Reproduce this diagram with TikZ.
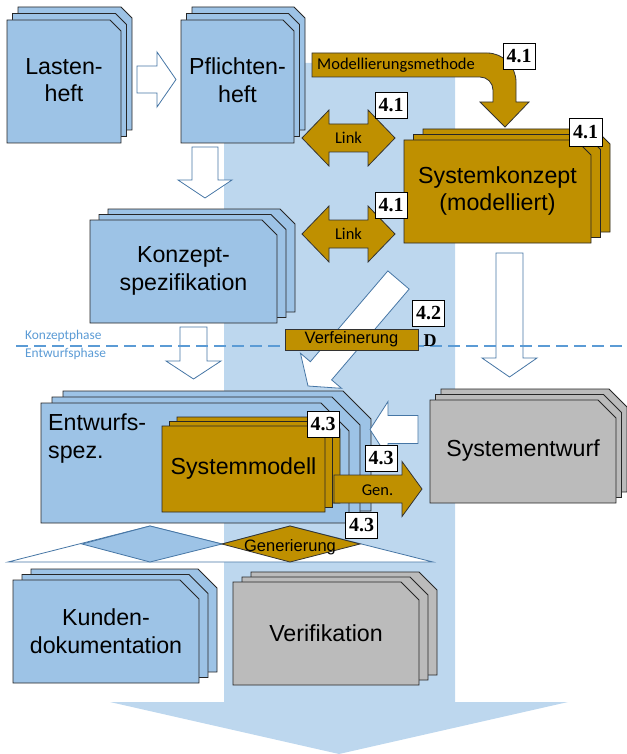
\documentclass[tikz,border=0pt]{standalone}
\usepackage{fontspec}
\setmainfont{Liberation Sans}
\newfontfamily\calibrifont{Carlito}
\newfontfamily\numfont{Liberation Serif}
\usetikzlibrary{calc}

\definecolor{bandblue}{RGB}{189,215,238}
\definecolor{docblue}{RGB}{157,195,230}
\definecolor{docgold}{RGB}{191,144,0}
\definecolor{docgray}{RGB}{187,187,187}
\definecolor{outlineblue}{RGB}{70,118,165}
\definecolor{phaseblue}{RGB}{91,155,213}

% stack of three sheets: style, front sheet x1,y1,x2,y2, cut, dx, dy
\newcommand{\docstack}[8]{%
  \foreach \k in {2,1,0}{
    \draw[#1] ({#2+\k*#7},{#3-\k*#8}) -- ({#4+\k*#7-#6},{#3-\k*#8})
      -- ({#4+\k*#7},{#3-\k*#8+#6}) -- ({#4+\k*#7},{#5-\k*#8})
      -- ({#2+\k*#7},{#5-\k*#8}) -- cycle;
  }}

% block arrow: style, tail, tip, shaft half width, head half width, head length
\newcommand{\blockarrow}[6]{%
  \coordinate (ba-s) at (#2);
  \coordinate (ba-t) at (#3);
  \coordinate (ba-h) at ($(ba-t)!#6!(ba-s)$);
  \draw[#1] ($(ba-s)!#4!90:(ba-t)$) -- ($(ba-h)!#4!90:(ba-t)$)
    -- ($(ba-h)!#5!90:(ba-t)$) -- (ba-t) -- ($(ba-h)!#5!-90:(ba-t)$)
    -- ($(ba-h)!#4!-90:(ba-t)$) -- ($(ba-s)!#4!-90:(ba-t)$) -- cycle;}

% double block arrow: style, end a, end b, shaft half width, head half width, head length
\newcommand{\linkarrow}[6]{%
  \coordinate (la-a) at (#2);
  \coordinate (la-b) at (#3);
  \coordinate (la-ha) at ($(la-a)!#6!(la-b)$);
  \coordinate (la-hb) at ($(la-b)!#6!(la-a)$);
  \draw[#1] (la-a) -- ($(la-ha)!#5!90:(la-b)$) -- ($(la-ha)!#4!90:(la-b)$)
    -- ($(la-hb)!#4!-90:(la-a)$) -- ($(la-hb)!#5!-90:(la-a)$) -- (la-b)
    -- ($(la-hb)!#5!90:(la-a)$) -- ($(la-hb)!#4!90:(la-a)$)
    -- ($(la-ha)!#4!-90:(la-b)$) -- ($(la-ha)!#5!-90:(la-b)$) -- cycle;}

\tikzset{
  bluedoc/.style={fill=docblue, draw=black!85, line width=0.8pt},
  golddoc/.style={fill=docgold, draw=black!85, line width=0.8pt},
  graydoc/.style={fill=docgray, draw=black!85, line width=0.8pt},
  hollow/.style={fill=white, draw=outlineblue, line width=0.8pt},
  goldarrow/.style={fill=docgold, draw=black!80, line width=0.8pt},
  doctext/.style={inner sep=0pt, align=center, font=\fontsize{23.2}{27.5}\selectfont},
  smalltext/.style={inner sep=0pt, font=\calibrifont\fontsize{16.5}{18}\selectfont},
  numbox/.style={draw=black, line width=0.8pt, fill=white, inner sep=0pt,
    minimum width=32pt, minimum height=26pt, font=\numfont\bfseries\fontsize{20}{20}\selectfont},
  phasetext/.style={inner sep=0pt, anchor=west, text=phaseblue, font=\calibrifont\fontsize{13.4}{15}\selectfont},
}

\begin{document}
\begin{tikzpicture}[x=1pt,y=-1pt]
\useasboundingbox (0,0) rectangle (626,754);

% wide arrow in the background
\fill[bandblue] (224,63) -- (455,63) -- (455,702) -- (568,702) -- (339,754)
  -- (110,702) -- (224,702) -- cycle;

% documents
\docstack{bluedoc}{7}{20}{121}{143}{11}{5.5}{6.5}
\node[doctext] (lasten) at (64,80) {Lasten-\\heft};
\docstack{bluedoc}{181}{20}{294}{143}{11}{5.5}{6.5}
\node[doctext] (pflichten) at (237.5,80) {Pflichten-\\heft};
\docstack{bluedoc}{90}{220}{277}{323}{15}{9}{5.5}
\node[doctext] (konzept) at (183.5,271) {Konzept-\\spezifikation};
\docstack{golddoc}{404}{140}{591}{243}{15}{9.5}{5.5}
\node[doctext] (syskonzept) at (497.5,191) {Systemkonzept\\(modelliert)};
\docstack{graydoc}{430}{400}{616}{503}{18}{5.5}{5.5}
\node[doctext] (sysentwurf) at (523,451) {Systementwurf};
\docstack{bluedoc}{41}{403}{349}{523}{28}{11}{6}
\node[doctext, anchor=north west, align=left] (entwurf) at (48,414) {Entwurfs-\\spez.};
\docstack{golddoc}{162}{426}{325}{512}{12}{7.5}{4.5}
\node[doctext] (sysmodell) at (243.5,468) {Systemmodell};
\docstack{bluedoc}{13}{580}{199}{683}{19}{9}{5.5}
\node[doctext] (kunden) at (106,631) {Kunden-\\dokumentation};
\docstack{graydoc}{233}{582}{419}{685}{18}{9}{5}
\node[doctext] (verifikation) at (326,633) {Verifikation};

% white arrows
\blockarrow{hollow}{137,79.5}{176,79.5}{13.5pt}{27.5pt}{19pt}
\blockarrow{hollow}{205,147}{205,198}{13pt}{27pt}{18pt}
\blockarrow{hollow}{193.5,327}{193.5,379}{13.5pt}{27.5pt}{18pt}
\blockarrow{hollow}{509.5,253}{509.5,377}{13.5pt}{27.5pt}{19pt}
\blockarrow{hollow}{418,429.5}{370,429.5}{14pt}{28pt}{18pt}
\blockarrow{hollow}{398.5,280}{308,386}{14pt}{27pt}{20pt}

% phase border
\draw[phaseblue, line width=1.2pt, dash pattern=on 12pt off 6pt] (16,346) -- (626,346);
\node[phasetext] (kphase) at (25,336) {Konzeptphase};
\node[phasetext] (ephase) at (25,354) {Entwurfsphase};

% modelling method
\draw[goldarrow] (312,53) -- (487,53) arc[start angle=90, end angle=0, radius=29pt]
  -- (516,102) -- (529,102) -- (505,127) -- (480,102) -- (493,102) -- (493,90)
  arc[start angle=0, end angle=90, radius=13pt] -- (312,77) -- cycle;
\node[smalltext, anchor=west] (methode) at (317,65) {Modellierungsmethode};

% links
\linkarrow{goldarrow}{302,138}{395,138}{14pt}{28pt}{27pt}
\node[smalltext] (link1) at (348.5,138) {Link};
\linkarrow{goldarrow}{302,234}{395,234}{14pt}{28pt}{27pt}
\node[smalltext] (link2) at (348.5,234) {Link};

% generation
\blockarrow{goldarrow}{334,489}{422,489}{14pt}{27.5pt}{20pt}
\node[smalltext] (gen) at (377.5,490) {Gen.};

% refinement
\node[goldarrow, minimum width=133pt, minimum height=21pt, inner sep=0pt,
  font=\fontsize{16.5}{18}\selectfont] (verf) at (351.5,339.5) {Verfeinerung};
\node[inner sep=0pt, font=\numfont\bfseries\fontsize{18}{18}\selectfont] (dlabel) at (430,341) {D};

% Generierung
\draw[hollow] (8,562) -- (150,526) -- (222,544) -- (290,526) -- (433,562) -- cycle;
\draw[fill=docblue, draw=outlineblue, line width=0.8pt] (82,544) -- (150,526) -- (222,544) -- (150,562) -- cycle;
\draw[goldarrow] (222,544) -- (290,526) -- (360,544) -- (290,562) -- cycle;
\node[inner sep=0pt, font=\fontsize{16.5}{18}\selectfont] (gener) at (290,547) {Generierung};

% section numbers
\node[numbox] (n1) at (519,56) {4.1};
\node[numbox] (n2) at (391,105) {4.1};
\node[numbox, minimum width=33pt, minimum height=28pt] (n3) at (585.5,132) {4.1};
\node[numbox] (n4) at (391,205) {4.1};
\node[numbox] (n5) at (428.5,313.5) {4.2};
\node[numbox] (n6) at (323,424) {4.3};
\node[numbox] (n7) at (381,458) {4.3};
\node[numbox] (n8) at (361.5,525.5) {4.3};
\end{tikzpicture}
\end{document}
